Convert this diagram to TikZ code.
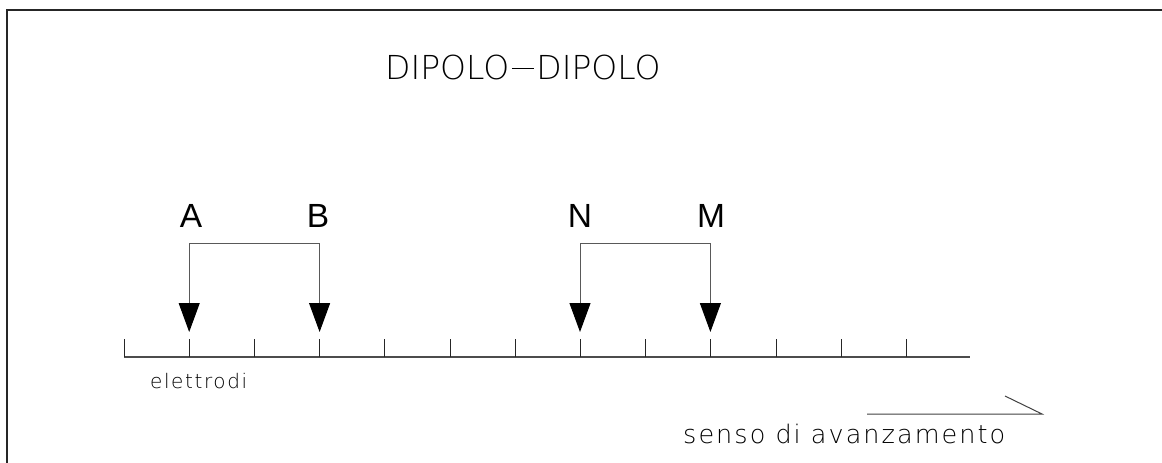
\documentclass[tikz,border=0pt]{standalone}
\usepackage{fontspec}
\newfontfamily\cadtitle{DejaVu Sans ExtraLight}
\newfontfamily\cadsmall[LetterSpace=8]{DejaVu Sans ExtraLight}
\newfontfamily\cadnote[LetterSpace=8]{DejaVu Sans ExtraLight}
\newfontfamily\elecfont{Liberation Sans}
\usetikzlibrary{arrows.meta}
\tikzset{
  frameline/.style={line width=1.3pt, draw=black!85},
  axisline/.style={line width=1.2pt, draw=black!70},
  tickline/.style={line width=1pt, draw=black!85},
  lead/.style={line width=1pt, draw=black!65,
    {Triangle[width=21pt,length=29pt,color=black]}-{Triangle[width=21pt,length=29pt,color=black]}},
  elec/.style={inner sep=0pt, anchor=base, font=\elecfont\fontsize{33.5}{40}\selectfont},
  titletext/.style={inner sep=0pt, anchor=base west, font=\cadtitle\fontsize{33}{40}\selectfont},
  smalltext/.style={inner sep=0pt, anchor=base west, font=\cadsmall\fontsize{20}{24}\selectfont},
  notetext/.style={inner sep=0pt, anchor=base west, font=\cadnote\fontsize{25.5}{30}\selectfont},
  dirline/.style={line width=1pt, draw=black!75}
}
\begin{document}
\begin{tikzpicture}[x=1pt,y=-1pt]
\useasboundingbox (0,0) rectangle (1162,463);
% frame
\draw[frameline] (7,463) -- (7,10) -- (1162,10);
% title
\node[titletext] (title) at (385,79) {DIPOLO\hspace{2.5pt}\rule[10.5pt]{22pt}{0.9pt}\hspace{2.5pt}DIPOLO};
% axis
\coordinate (axL) at (124,357);
\coordinate (axR) at (970,357);
\draw[axisline] (axL) -- (axR);
\foreach \i in {0,...,12} {
  \draw[tickline] (124+65.2*\i,339) -- (124+65.2*\i,357);
}
% electrodes
\node[elec] (A) at (191,227) {A};
\node[elec] (B) at (318,227) {B};
\node[elec] (N) at (580,227) {N};
\node[elec] (M) at (711,227) {M};
\coordinate (tA) at (189.2,332);
\coordinate (tB) at (319.6,332);
\coordinate (tN) at (580,332);
\coordinate (tM) at (710.4,332);
\coordinate (hA) at (189.2,243);
\coordinate (hB) at (319.6,243);
\coordinate (hN) at (580,243);
\coordinate (hM) at (710.4,243);
\draw[lead] (tA) -- (hA) -- (hB) -- (tB);
\draw[lead] (tN) -- (hN) -- (hM) -- (tM);
% labels
\node[smalltext] (el) at (150,388) {elettrodi};
\node[notetext] (senso) at (683,443) {senso di avanzamento};
% direction half arrow
\coordinate (d1) at (867,414);
\coordinate (d2) at (1042,414);
\coordinate (d3) at (1005,396);
\draw[dirline] (d1) -- (d2) -- (d3);
\end{tikzpicture}
\end{document}
